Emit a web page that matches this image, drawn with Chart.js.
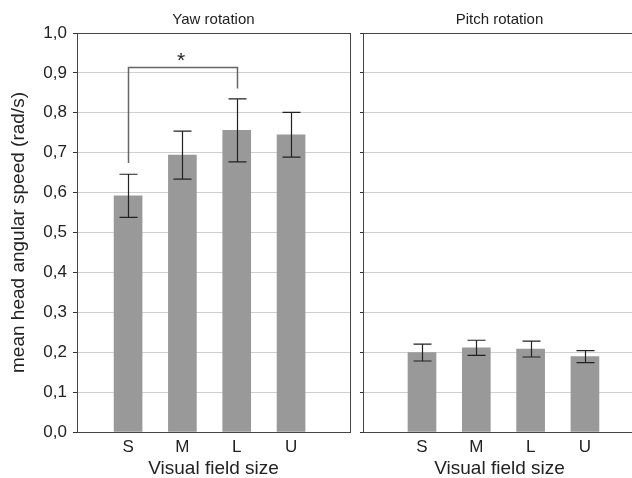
<!DOCTYPE html>
<html>
<head>
<meta charset="utf-8">
<title>Head angular speed</title>
<script src="https://cdn.jsdelivr.net/npm/chart.js@4.4.1/dist/chart.umd.min.js"></script>
<style>
  html, body { margin: 0; padding: 0; background: #fff; overflow: hidden; }
  #wrap { position: relative; width: 632px; height: 478px; overflow: hidden; }
  #yawBox { position: absolute; left: 0; top: 0; width: 354px; height: 478px; }
  #pitchBox { position: absolute; left: 354px; top: 0; width: 290px; height: 478px; }
</style>
</head>
<body>
<div id="wrap">
  <div id="yawBox"><canvas id="yaw"></canvas></div>
  <div id="pitchBox"><canvas id="pitch"></canvas></div>
</div>
<script>
// ---- data ----
const categories = ['S', 'M', 'L', 'U'];
const yawMeans   = [0.592, 0.694, 0.756, 0.745];
const yawErr     = [0.054, 0.060, 0.079, 0.056];
const pitchMeans = [0.199, 0.211, 0.208, 0.189];
const pitchErr   = [0.021, 0.019, 0.020, 0.015];
const yTickValues = [0, 0.1, 0.2, 0.3, 0.4, 0.5, 0.6, 0.7, 0.8, 0.9, 1.0];
const yTickLabels = ['0,0', '0,1', '0,2', '0,3', '0,4', '0,5', '0,6', '0,7', '0,8', '0,9', '1,0'];
const sigPair   = [0, 2];                // S vs L
const sigLevels = [0.674, 0.915, 0.861]; // left foot, bracket, right foot
const sigLabel  = '*';

const FONT = '"Liberation Sans", Arial, sans-serif';
const INK = '#222';
Chart.defaults.font.family = FONT;
Chart.defaults.color = INK;

// error bars, frame and significance bracket
const decorPlugin = {
  id: 'decor',
  afterDatasetsDraw(chart, args, opts) {
    const { ctx, chartArea: a, scales: { x, y } } = chart;
    const ds = chart.data.datasets[0];
    ctx.save();
    ctx.strokeStyle = INK;
    ctx.lineWidth = 1.2;
    ds.means.forEach((m, i) => {
      const px = Math.round(x.getPixelForValue(i)) + 0.5;
      const top = y.getPixelForValue(m + ds.errors[i]);
      const bot = y.getPixelForValue(m - ds.errors[i]);
      ctx.beginPath();
      ctx.moveTo(px, top); ctx.lineTo(px, bot);
      ctx.moveTo(px - 9, top); ctx.lineTo(px + 9, top);
      ctx.moveTo(px - 9, bot); ctx.lineTo(px + 9, bot);
      ctx.stroke();
    });

    ctx.strokeStyle = '#444';
    ctx.lineWidth = 1;
    ctx.strokeRect(Math.round(a.left) + 0.5, Math.round(a.top) + 0.5,
                   Math.round(a.right - a.left), Math.round(a.bottom - a.top));

    if (opts.bracket) {
      const x0 = Math.round(x.getPixelForValue(sigPair[0])) + 0.5;
      const x1 = Math.round(x.getPixelForValue(sigPair[1])) + 0.5;
      const yBar = Math.round(y.getPixelForValue(sigLevels[1])) + 0.5;
      ctx.strokeStyle = '#666';
      ctx.lineWidth = 1.5;
      ctx.beginPath();
      ctx.moveTo(x0, y.getPixelForValue(sigLevels[0]));
      ctx.lineTo(x0, yBar);
      ctx.lineTo(x1, yBar);
      ctx.lineTo(x1, y.getPixelForValue(sigLevels[2]));
      ctx.stroke();
      ctx.fillStyle = INK;
      ctx.font = '21px ' + FONT;
      ctx.textAlign = 'center';
      ctx.textBaseline = 'alphabetic';
      ctx.fillText(sigLabel, (x0 + x1) / 2 - 2, yBar - 1);
    }
    ctx.restore();
  }
};

function panel(canvasId, opts) {
  return new Chart(document.getElementById(canvasId), {
    type: 'bar',
    data: {
      datasets: [{
        data: opts.means.map((v, i) => ({ x: i, y: v })),
        means: opts.means,
        errors: opts.errors,
        backgroundColor: '#999999',
        barThickness: 28,
      }],
    },
    options: {
      responsive: true,
      maintainAspectRatio: false,
      devicePixelRatio: 1,
      animation: false,
      layout: { padding: { top: 0, right: opts.padRight, bottom: 0, left: 0 } },
      plugins: {
        legend: { display: false },
        tooltip: { enabled: false },
        title: {
          display: true,
          text: opts.title,
          fullSize: false,
          color: INK,
          font: { size: 15, weight: 'normal' },
          padding: { top: 11, bottom: 4 },
        },
        decor: { bracket: opts.bracket },
      },
      scales: {
        x: {
          type: 'linear',
          min: opts.xMin,
          max: opts.xMax,
          offset: false,
          afterBuildTicks: s => { s.ticks = categories.map((_, i) => ({ value: i })); },
          ticks: {
            callback: v => categories[v],
            font: { size: 17 },
            color: INK,
            padding: 5,
            autoSkip: false,
            maxRotation: 0,
          },
          grid: { display: false, drawTicks: false, offset: false },
          border: { display: false },
          title: {
            display: true,
            text: 'Visual field size',
            color: INK,
            font: { size: 19, lineHeight: 1 },
            padding: 0,
          },
          afterFit: s => { s.height = 46; },
        },
        y: {
          min: 0,
          max: 1,
          afterBuildTicks: s => { s.ticks = yTickValues.map(v => ({ value: v })); },
          ticks: {
            display: opts.showY,
            callback: (v, i) => yTickLabels[i],
            font: { size: 17 },
            color: INK,
            padding: 6,
          },
          grid: { color: '#cfcfcf', tickColor: '#333', tickLength: opts.tickLen, lineWidth: 1 },
          border: { display: false },
          title: {
            display: opts.showY,
            text: 'mean head angular speed (rad/s)',
            color: INK,
            font: { size: 19 },
            padding: { top: 7, bottom: 0 },
          },
          afterFit: s => { s.width = opts.yWidth; },
        },
      },
    },
    plugins: [decorPlugin],
  });
}

panel('yaw', {
  title: 'Yaw rotation', means: yawMeans, errors: yawErr,
  xMin: -0.94, xMax: 4.085, yWidth: 77, padRight: 4,
  showY: true, tickLen: 4, bracket: true,
});
panel('pitch', {
  title: 'Pitch rotation', means: pitchMeans, errors: pitchErr,
  xMin: -1.086, xMax: 3.94, yWidth: 9, padRight: 8,
  showY: false, tickLen: 3, bracket: false,
});
</script>
</body>
</html>
